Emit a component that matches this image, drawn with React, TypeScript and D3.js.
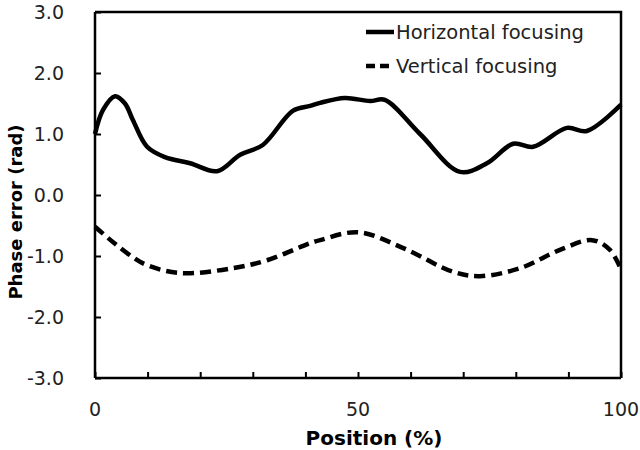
import React, { useEffect, useRef } from "react";
import * as d3 from "d3";

// position (%) along the device
const horizPos = [0, 1.5, 3.8, 5.7, 7.2, 9.9, 13.3, 18.1, 23.2, 27.6, 31.9, 37.6, 40.9, 42.8, 47.5, 52.3, 55.1, 61.8, 69.4, 74.5, 79.5, 83.3, 89.7, 93.5, 100];
const horizErr = [1.0, 1.39, 1.62, 1.5, 1.23, 0.79, 0.62, 0.52, 0.39, 0.66, 0.82, 1.38, 1.46, 1.51, 1.59, 1.54, 1.56, 1.0, 0.38, 0.52, 0.84, 0.79, 1.1, 1.05, 1.48];

const vertPos = [0, 3.4, 7.2, 9.9, 16.2, 26.2, 32.7, 40.9, 42.8, 50, 58.6, 68.1, 73.2, 80.8, 88.4, 94.5, 97.9, 100];
const vertErr = [-0.52, -0.77, -1.02, -1.15, -1.28, -1.2, -1.07, -0.79, -0.74, -0.61, -0.87, -1.26, -1.33, -1.2, -0.9, -0.74, -0.9, -1.22];

const yTicks = [-3, -2, -1, 0, 1, 2, 3];
const xTicks = [0, 10, 20, 30, 40, 50, 60, 70, 80, 90, 100];
const xLabels = [0, 50, 100];

const seriesNames = ["Horizontal focusing", "Vertical focusing"];

const FONT = "'DejaVu Sans', Verdana, sans-serif";

function App() {
  const ref = useRef<SVGSVGElement>(null);

  useEffect(() => {
    const svg = d3.select(ref.current);
    svg.selectAll("*").remove();

    const left = 95, right = 621, top = 12, bottom = 378;

    const x = d3.scaleLinear().domain([0, 100]).range([left, right]);
    const y = d3.scaleLinear().domain([-3, 3]).range([bottom, top]);

    // frame (top and right sides)
    svg.append("path")
      .attr("d", `M${left},${top}H${right}V${bottom}`)
      .attr("fill", "none")
      .attr("stroke", "#000")
      .attr("stroke-width", 2.5);

    // left axis, ticks pointing inward
    const yAxis = svg.append("g")
      .attr("transform", `translate(${left},0)`)
      .call(d3.axisRight(y).tickValues(yTicks).tickSize(6).tickFormat(() => ""));
    yAxis.select(".domain").attr("stroke-width", 2.5).attr("d", `M0,${top}V${bottom}`);
    yAxis.selectAll(".tick line").attr("stroke-width", 2);

    svg.append("g")
      .selectAll("text")
      .data(yTicks)
      .enter()
      .append("text")
      .attr("x", 64)
      .attr("y", (d) => y(d))
      .attr("dy", "0.36em")
      .attr("text-anchor", "end")
      .attr("font-family", FONT)
      .attr("font-size", 19)
      .attr("fill", "#222")
      .text((d) => d.toFixed(1));

    // bottom axis, ticks pointing inward
    const xAxis = svg.append("g")
      .attr("transform", `translate(0,${bottom})`)
      .call(d3.axisTop(x).tickValues(xTicks).tickSize(6).tickFormat(() => ""));
    xAxis.select(".domain").attr("stroke-width", 2.5).attr("d", `M${left},0H${right}`);
    xAxis.selectAll(".tick line").attr("stroke-width", 2);

    svg.append("g")
      .selectAll("text")
      .data(xLabels)
      .enter()
      .append("text")
      .attr("x", (d) => x(d))
      .attr("y", 416)
      .attr("text-anchor", "middle")
      .attr("font-family", FONT)
      .attr("font-size", 19)
      .attr("fill", "#222")
      .text((d) => d);

    // axis titles
    svg.append("text")
      .attr("x", 374)
      .attr("y", 445)
      .attr("text-anchor", "middle")
      .attr("font-family", FONT)
      .attr("font-weight", "bold")
      .attr("font-size", 20)
      .text("Position (%)");

    svg.append("text")
      .attr("transform", `translate(22,${212}) rotate(-90)`)
      .attr("text-anchor", "middle")
      .attr("font-family", FONT)
      .attr("font-weight", "bold")
      .attr("font-size", 18)
      .text("Phase error (rad)");

    const line = d3.line<[number, number]>()
      .x((d) => x(d[0]))
      .y((d) => y(d[1]))
      .curve(d3.curveCatmullRom.alpha(0.5));

    svg.append("path")
      .datum(horizPos.map((p, i) => [p, horizErr[i]] as [number, number]))
      .attr("d", line)
      .attr("fill", "none")
      .attr("stroke", "#000")
      .attr("stroke-width", 4.5);

    svg.append("path")
      .datum(vertPos.map((p, i) => [p, vertErr[i]] as [number, number]))
      .attr("d", line)
      .attr("fill", "none")
      .attr("stroke", "#000")
      .attr("stroke-width", 4.5)
      .attr("stroke-dasharray", "11,6");

    // legend
    const legend = svg.append("g");
    seriesNames.forEach((name, i) => {
      const ly = 32 + i * 34;
      legend.append("line")
        .attr("x1", 366).attr("x2", 394)
        .attr("y1", ly).attr("y2", ly)
        .attr("stroke", "#000")
        .attr("stroke-width", 4.5)
        .attr("stroke-dasharray", i === 0 ? null : "9,5");
      legend.append("text")
        .attr("x", 396)
        .attr("y", ly)
        .attr("dy", "0.36em")
        .attr("font-family", FONT)
        .attr("font-size", 19.5)
        .attr("fill", "#222")
        .text(name);
    });
  }, []);

  return (
    <div>
      <svg ref={ref} width={640} height={450} style={{ position: "absolute", left: 0, top: 0, background: "#fff" }} />
    </div>
  );
}

export default App;
